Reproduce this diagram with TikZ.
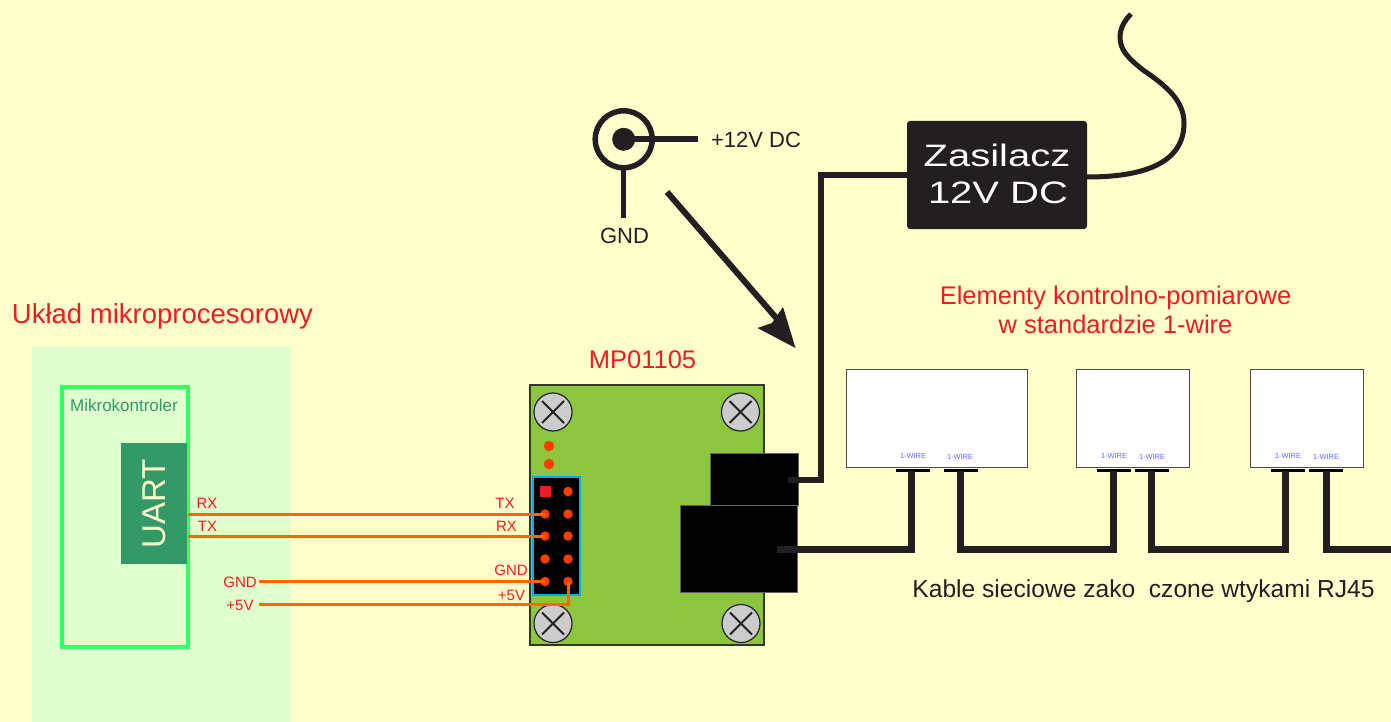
\documentclass[tikz,border=0pt]{standalone}
\usepackage{fontspec}
\setmainfont{Liberation Sans}
\definecolor{bgy}{HTML}{FFFFCC}
\definecolor{lgreen}{HTML}{DFFFCC}
\definecolor{mgreen}{HTML}{33FF66}
\definecolor{dgreen}{HTML}{339966}
\definecolor{board}{HTML}{8CC63F}
\definecolor{ink}{HTML}{231F20}
\definecolor{redt}{HTML}{ED1C24}
\definecolor{wirec}{HTML}{FF6600}
\definecolor{pinc}{HTML}{FF3D00}
\definecolor{hblue}{HTML}{00AEEF}
\definecolor{wlabel}{HTML}{6666FF}
\newcommand{\fs}[1]{\fontsize{#1}{#1}\selectfont}
\tikzset{
 x=1pt,y=-1pt,
 rbox/.style={rectangle,anchor=north west,inner sep=0pt,outer sep=0pt},
 screwc/.style={circle,draw=ink,line width=1.2pt,fill=black!20,minimum size=38pt,inner sep=0pt},
 xmark/.style={draw=ink,line width=2pt},
 pin/.style={circle,fill=pinc,minimum size=9.5pt,inner sep=0pt,outer sep=0pt},
 led/.style={circle,fill=pinc,minimum size=10.5pt,inner sep=0pt},
 wirel/.style={wirec,line width=3pt},
 cable/.style={ink,line width=7pt,line join=miter},
 thinc/.style={ink,line width=5.5pt,line join=miter},
 module/.style={rbox,fill=white,draw=ink!80,line width=.8pt},
 tab/.style={rbox,fill=black},
 wl/.style={inner sep=0pt,text=wlabel,font=\fs{7.4}},
 sig/.style={inner sep=0pt,text=redt,font=\fs{15}},
 blk/.style={inner sep=0pt,text=ink,font=\fs{22}},
 head/.style={inner sep=0pt,text=redt,font=\fs{25.5},align=center},
 psul/.style={inner sep=0pt,text=white,anchor=base},
}
\begin{document}
\begin{tikzpicture}
\useasboundingbox (0,0) rectangle (1391,722);
\fill[bgy] (0,0) rectangle (1391,722);
% microprocessor system
\node[rbox,fill=lgreen,minimum width=259pt,minimum height=375pt] (sys) at (32,347) {};
\node[rbox,draw=mgreen,line width=3.2pt,minimum width=126pt,minimum height=260pt] (mcu) at (62,387) {};
\node[rbox,fill=dgreen,minimum width=66pt,minimum height=121pt] (uart) at (121,443) {};
\node[inner sep=0pt,rotate=90,text=bgy,font=\fs{33}] (uartt) at (154.5,503.5) {UART};
\node[inner sep=0pt,text=dgreen,font=\fs{17}] (mk) at (124,405) {Mikrokontroler};
\node[inner sep=0pt,text=redt,font=\fs{27.5}] (ukl) at (162.5,316) {Układ mikroprocesorowy};
% board
\node[rbox,fill=board,draw=ink!85!board,line width=1.2pt,minimum width=234pt,minimum height=260pt] (brd) at (530,385) {};
\foreach \n/\cx/\cy in {s1/553/412,s2/740.5/412,s3/553/623.5,s4/741/623.5}{
  \node[screwc] (\n) at (\cx,\cy) {};
  \draw[xmark] ([shift={(-11,-11)}]\n.center) -- ([shift={(11,11)}]\n.center);
  \draw[xmark] ([shift={(-11,11)}]\n.center) -- ([shift={(11,-11)}]\n.center);
}
\node[led] (l1) at (549,446) {};
\node[led] (l2) at (549,464) {};
\node[rbox,fill=black,draw=hblue,line width=2.6pt,minimum width=47pt,minimum height=118pt] (hdr) at (533,477) {};
\node[rectangle,fill=redt,minimum size=11pt,inner sep=0pt] (p0) at (545.5,491.5) {};
\node[pin] (q0) at (568,491.5) {};
\node[pin] (p1) at (545,514) {};
\node[pin] (q1) at (568,514) {};
\node[pin] (p2) at (545,536) {};
\node[pin] (q2) at (568,536) {};
\node[pin] (p3) at (545,559) {};
\node[pin] (q3) at (568,559) {};
\node[pin] (p4) at (545,581.5) {};
\node[pin] (q4) at (568,581.5) {};
\node[rbox,fill=black,draw=ink!70,line width=.8pt,minimum width=88pt,minimum height=52pt] (jackb) at (710,453.5) {};
\node[rbox,fill=black,draw=ink!70,line width=.8pt,minimum width=117pt,minimum height=87pt] (rjb) at (680.5,505.5) {};
\node[head] (mp) at (642.5,359.5) {MP01105};
% signal wires
\coordinate (ua) at (188,514);
\coordinate (ub) at (188,536);
\coordinate (uc) at (259,581.5);
\coordinate (ud) at (259,604);
\draw[wirel] (ua) -- (p1.center);
\draw[wirel] (ub) -- (p2.center);
\draw[wirel] (uc) -- (p4.center);
\draw[wirel] (ud) -| (q4.center);
\node[sig] at (207,503) {RX};
\node[sig] at (207.5,526) {TX};
\node[sig] at (240,582) {GND};
\node[sig] at (240,605) {+5V};
\node[sig] at (505,503) {TX};
\node[sig] at (506.5,526) {RX};
\node[sig] at (511,570) {GND};
\node[sig] at (511.5,595) {+5V};
% power jack
\node[circle,draw=ink,line width=5.5pt,minimum size=57pt,inner sep=0pt,outer sep=0pt] (jk) at (623.7,139.3) {};
\node[circle,fill=ink,minimum size=23pt,inner sep=0pt] (jd) at (623.7,139.3) {};
\coordinate (jp) at (697.7,139.3);
\coordinate (jg) at (623.7,217.7);
\draw[ink,line width=6pt] (jd.center) -- (jp);
\draw[ink,line width=5pt] (jk.south) -- (jg);
\node[blk] (v12) at (756,139.5) {+12V DC};
\node[blk] (gnd) at (624.5,235.5) {GND};
% arrow
\coordinate (as) at (667,192);
\coordinate (ae) at (778,320);
\draw[ink,line width=6pt] (as) -- (ae);
\fill[ink] (795.5,348) -- (757.5,328) -- (772,323) -- (783,307) -- cycle;
% PSU
\node[rbox,fill=ink,rounded corners=3pt,minimum width=180pt,minimum height=108pt] (psu) at (907,121) {};
\node[psul] (psua) at (997,167) {\scalebox{1.29}[1]{\fs{31}Zasilacz}};
\node[psul] (psub) at (998,204) {\scalebox{1.29}[1]{\fs{31}12V DC}};
\coordinate (jc) at (788,480);
\coordinate (jt) at (821,175);
\draw[thinc] (jc) -| (jt) -- (psu.west |- jt);
\coordinate (mains) at (1087,177);
\coordinate (mainsend) at (1131,14);
\draw[ink,line width=5pt] (mains) .. controls (1150,177) and (1184,160) .. (1184,123)
  .. controls (1184,100) and (1165,85) .. (1143,70)
  .. controls (1128,58) and (1120,50) .. (1120,37)
  .. controls (1120,28) and (1125,20) .. (mainsend);
% modules
\node[head] (elem) at (1115.5,310) {Elementy kontrolno-pomiarowe\\[3pt]w standardzie 1-wire};
\node[module,minimum width=181pt,minimum height=98pt] (m1) at (846.8,369.8) {};
\node[module,minimum width=113pt,minimum height=98pt] (m2) at (1076.8,369.8) {};
\node[module,minimum width=113pt,minimum height=98pt] (m3) at (1250.8,369.8) {};
\foreach \n/\tx in {a1/896,a2/944,b1/1097,b2/1135,c1/1271,c2/1309}{
  \node[tab,minimum width=34pt,minimum height=3.5pt] (\n) at (\tx,468.5) {};
}
\node[wl] at (913,455.7) {1-WIRE};
\node[wl] at (960,456.7) {1-WIRE};
\node[wl] at (1114,455.7) {1-WIRE};
\node[wl] at (1152,456.7) {1-WIRE};
\node[wl] at (1288,455.7) {1-WIRE};
\node[wl] at (1326,456.7) {1-WIRE};
% cables
\coordinate (rj) at (777,549);
\coordinate (k1) at (911,471);
\coordinate (k2) at (960.5,471);
\coordinate (k3) at (1113,471);
\coordinate (k4) at (1151,471);
\coordinate (k5) at (1285.5,471);
\coordinate (k6) at (1326,471);
\coordinate (kend) at (1391,549);
\draw[cable] (rj) -| (k1);
\draw[cable] (k2) |- (rj -| k3) -- (k3);
\draw[cable] (k4) |- (rj -| k5) -- (k5);
\draw[cable] (k6) |- (kend);
\node[inner sep=0pt,text=ink,font=\fs{24.6}] (kab) at (1143.5,591.5) {Kable sieciowe zako\ \ czone wtykami RJ45};
\end{tikzpicture}
\end{document}
